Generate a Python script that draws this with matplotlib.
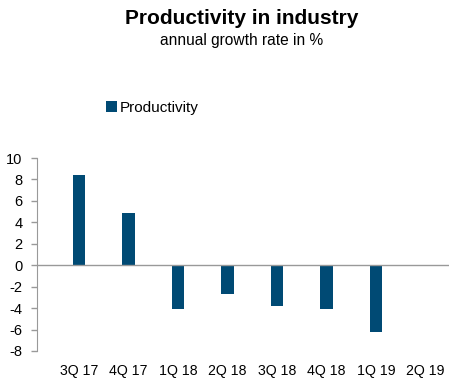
import matplotlib
matplotlib.use("Agg")
import matplotlib.pyplot as plt
import numpy as np

categories = ["3Q 17", "4Q 17", "1Q 18", "2Q 18", "3Q 18", "4Q 18", "1Q 19", "2Q 19"]
productivity = [8.4, 4.9, -4.1, -2.7, -3.8, -4.1, -6.2, np.nan]
yticks = [10, 8, 6, 4, 2, 0, -2, -4, -6, -8]

plt.rcParams['font.family'] = ['Liberation Sans', 'DejaVu Sans']
W, H = 449, 381
fig = plt.figure(figsize=(W / 100, H / 100), dpi=100)
ax = fig.add_axes([37 / W, 1 - 351 / H, (449 - 37) / W, (351 - 158) / H])

color = "#004a74"
x = np.arange(len(categories))
ax.bar(x, productivity, width=0.25, color=color, label="Productivity")

ax.set_ylim(-8, 10)
ax.set_xlim(-0.85, 7.47)
ax.set_yticks(yticks)
ax.set_yticklabels([str(v) for v in yticks], fontsize=10.5)
ax.set_xticks(x)
ax.set_xticklabels(categories, fontsize=10.2)
ax.tick_params(axis='x', length=0, pad=9)
ax.tick_params(axis='y', length=4, width=1, color="#999999", pad=6.5)

for s in ["top", "right", "bottom"]:
    ax.spines[s].set_visible(False)
ax.spines["left"].set_color("#999999")
ax.axhline(0, color="#999999", lw=1)

fig.text(242 / W, 1 - 18 / H, "Productivity in industry", ha="center", va="center",
         fontsize=15, fontweight="bold")
fig.text(242 / W, 1 - 40 / H, "annual growth rate in %", ha="center", va="center",
         fontsize=11.2)

leg = fig.legend(loc="center left", bbox_to_anchor=(106 / W, 1 - 108 / H), frameon=False,
                 fontsize=11, handlelength=0.7, handleheight=0.7, handletextpad=0.2,
                 borderaxespad=0, borderpad=0)

fig.savefig("out.png", dpi=100)
